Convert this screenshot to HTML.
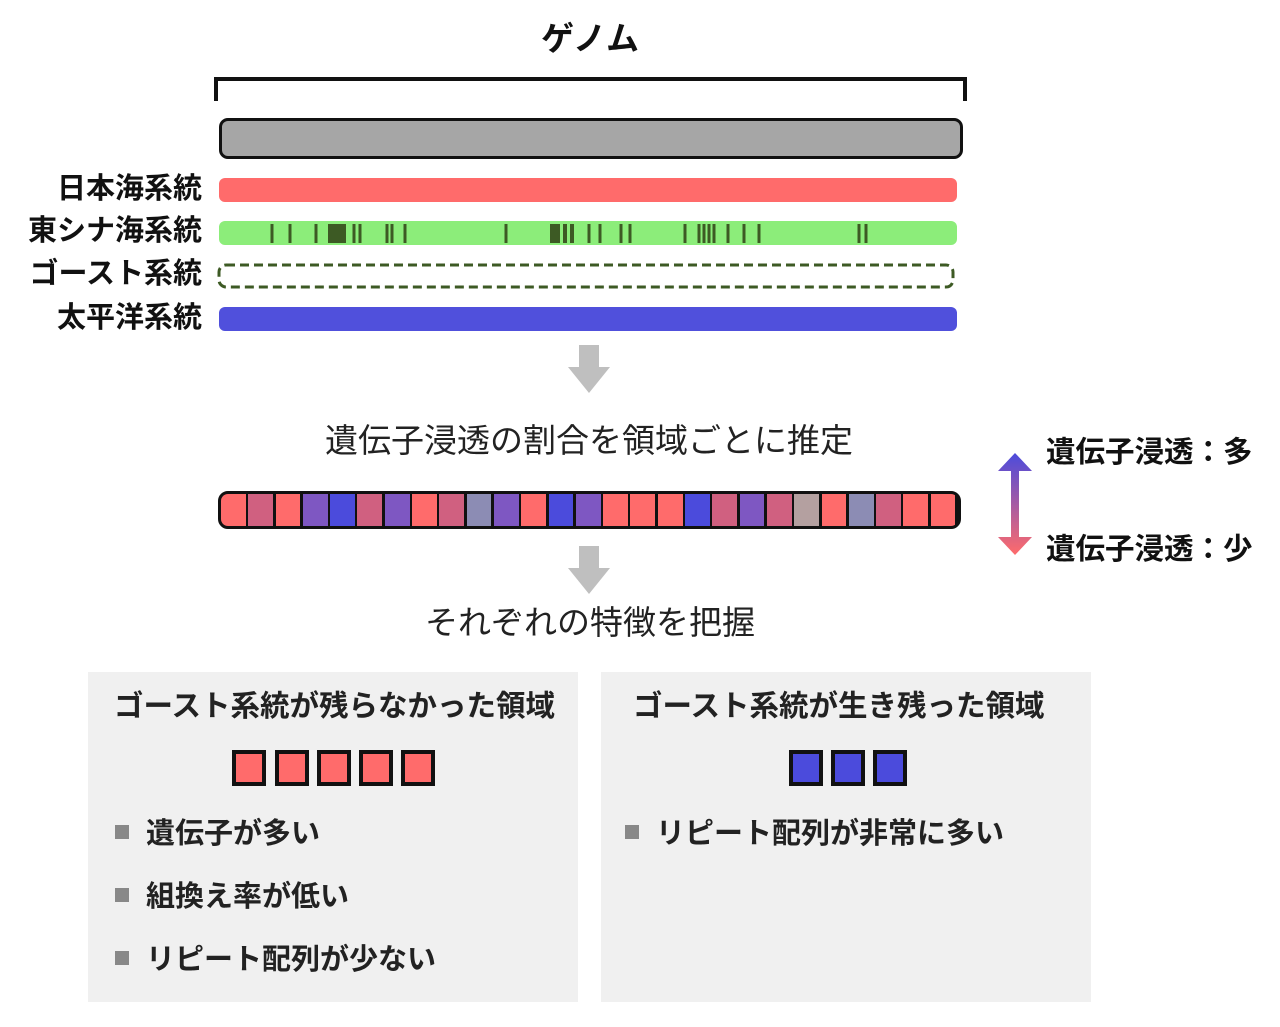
<!DOCTYPE html>
<html><head><meta charset="utf-8"><style>
body{margin:0;width:1280px;height:1027px;background:#fff;position:relative;font-family:"Liberation Sans","Noto Sans CJK JP",sans-serif;overflow:hidden}
.a{position:absolute}
.lbl{position:absolute;right:1078px;font-weight:bold;font-size:29px;color:#111;white-space:nowrap;line-height:30px}
.box{position:absolute;background:#f0f0f0}
.bt{font-weight:bold;font-size:29.5px;color:#222;position:absolute;white-space:nowrap}
.li{position:absolute;font-weight:bold;font-size:29px;color:#222;white-space:nowrap}
.li:before{content:"";display:inline-block;width:14px;height:14px;background:#888;margin-right:17px;vertical-align:4px}
.sq{position:absolute;width:26px;height:28px;border:4px solid #111}
</style></head><body>
<div class="a" style="left:0;width:1180px;top:12px;text-align:center;font-weight:bold;font-size:33px;color:#111">ゲノム</div>
<div class="a" style="left:214px;top:77px;width:745px;height:20px;border:4px solid #111;border-bottom:none"></div>
<div class="a" style="left:219px;top:118px;width:738px;height:35px;background:#a6a6a6;border:3px solid #111;border-radius:9px"></div>
<div class="lbl" style="top:174px">日本海系統</div>
<div class="lbl" style="top:216px">東シナ海系統</div>
<div class="lbl" style="top:259px">ゴースト系統</div>
<div class="lbl" style="top:303px">太平洋系統</div>
<div class="a" style="left:219px;top:178px;width:738px;height:24px;background:#ff6b6b;border-radius:6px"></div>
<svg class="a" style="left:0;top:0" width="1280" height="340">
<rect x="219" y="221" width="738" height="24" rx="6" fill="#8ced7a"/>
<g stroke="#3d5a24" stroke-width="3">
<line x1="272" y1="224" x2="272" y2="243"/><line x1="290" y1="224" x2="290" y2="243"/><line x1="316" y1="224" x2="316" y2="243"/>
<line x1="354" y1="224" x2="354" y2="243"/><line x1="360" y1="224" x2="360" y2="243"/><line x1="387" y1="224" x2="387" y2="243"/><line x1="392" y1="224" x2="392" y2="243"/><line x1="405" y1="224" x2="405" y2="243"/><line x1="506" y1="224" x2="506" y2="243"/>
<line x1="589" y1="224" x2="589" y2="243"/><line x1="600" y1="224" x2="600" y2="243"/><line x1="621" y1="224" x2="621" y2="243"/><line x1="630" y1="224" x2="630" y2="243"/>
<line x1="685" y1="224" x2="685" y2="243"/><line x1="699" y1="224" x2="699" y2="243"/><line x1="704" y1="224" x2="704" y2="243"/><line x1="709" y1="224" x2="709" y2="243"/><line x1="714" y1="224" x2="714" y2="243"/><line x1="728" y1="224" x2="728" y2="243"/><line x1="744" y1="224" x2="744" y2="243"/><line x1="759" y1="224" x2="759" y2="243"/><line x1="859" y1="224" x2="859" y2="243"/><line x1="866" y1="224" x2="866" y2="243"/>
</g>
<rect x="328" y="224" width="18" height="19" fill="#3d5a24"/>
<rect x="550" y="224" width="10" height="19" fill="#3d5a24"/><rect x="563" y="224" width="4" height="19" fill="#3d5a24"/><rect x="570" y="224" width="4" height="19" fill="#3d5a24"/>
<rect x="219" y="265" width="734" height="22" rx="7" fill="none" stroke="#3d5a24" stroke-width="3" stroke-dasharray="9,5"/>
<rect x="219" y="307" width="738" height="24" rx="6" fill="#5050dc"/>
</svg>
<svg class="a" style="left:566px;top:345px" width="46" height="50"><polygon points="13,0 33,0 33,22 44,22 23,48 2,22 13,22" fill="#bfbfbf"/></svg>
<svg class="a" style="left:566px;top:546px" width="46" height="50"><polygon points="13,0 33,0 33,22 44,22 23,48 2,22 13,22" fill="#bfbfbf"/></svg>
<div class="a" style="left:0;width:1178px;top:414px;text-align:center;font-size:33px;color:#222">遺伝子浸透の割合を領域ごとに推定</div>
<div class="a" style="left:0;width:1180px;top:596px;text-align:center;font-size:33px;color:#222">それぞれの特徴を把握</div>
<div class="a" style="left:218px;top:491px;width:743px;height:38px;border:3px solid #111;border-radius:10px;box-sizing:border-box;overflow:hidden;background:#111">
<div id="segs"></div>
</div>
<script>
var c={R:"#ff6b6b",P:"#d06080",V:"#7e57c2",B:"#4b4bdc",G:"#8c8cb4",T:"#b4a0a0"};
var s="RPRVBPVRPGVRBVRRRBPVPTRGPRR",h="",w=737/27;
for(var i=0;i<27;i++){h+='<div style="position:absolute;top:0;height:32px;left:'+(i*w)+'px;width:'+(w-2.5)+'px;background:'+c[s[i]]+'"></div>';}
document.getElementById("segs").innerHTML=h;
</script>
<svg class="a" style="left:998px;top:453px" width="36" height="104">
<defs><linearGradient id="g" x1="0" y1="0" x2="0" y2="1"><stop offset="0" stop-color="#4b4bdc"/><stop offset="1" stop-color="#ff6b6b"/></linearGradient></defs>
<polygon points="17,0 34,18 21,18 21,84 34,84 17,102 0,84 13,84 13,18 0,18" fill="url(#g)"/>
</svg>
<div class="a" style="left:1046px;top:429px;font-weight:bold;font-size:29.5px;color:#111">遺伝子浸透：多</div>
<div class="a" style="left:1046px;top:526px;font-weight:bold;font-size:29.5px;color:#111">遺伝子浸透：少</div>
<div class="box" style="left:88px;top:672px;width:490px;height:330px"></div>
<div class="box" style="left:601px;top:672px;width:490px;height:330px"></div>
<div class="bt" style="left:114px;top:683px">ゴースト系統が残らなかった領域</div>
<div class="bt" style="left:633px;top:683px">ゴースト系統が生き残った領域</div>
<div class="sq" style="left:232px;top:750px;background:#ff6b6b"></div>
<div class="sq" style="left:275px;top:750px;background:#ff6b6b"></div>
<div class="sq" style="left:317px;top:750px;background:#ff6b6b"></div>
<div class="sq" style="left:359px;top:750px;background:#ff6b6b"></div>
<div class="sq" style="left:401px;top:750px;background:#ff6b6b"></div>
<div class="sq" style="left:789px;top:750px;background:#4b4bdc"></div>
<div class="sq" style="left:831px;top:750px;background:#4b4bdc"></div>
<div class="sq" style="left:873px;top:750px;background:#4b4bdc"></div>
<div class="li" style="left:115px;top:810px">遺伝子が多い</div>
<div class="li" style="left:115px;top:873px">組換え率が低い</div>
<div class="li" style="left:115px;top:936px">リピート配列が少ない</div>
<div class="li" style="left:625px;top:810px">リピート配列が非常に多い</div>
</body></html>
